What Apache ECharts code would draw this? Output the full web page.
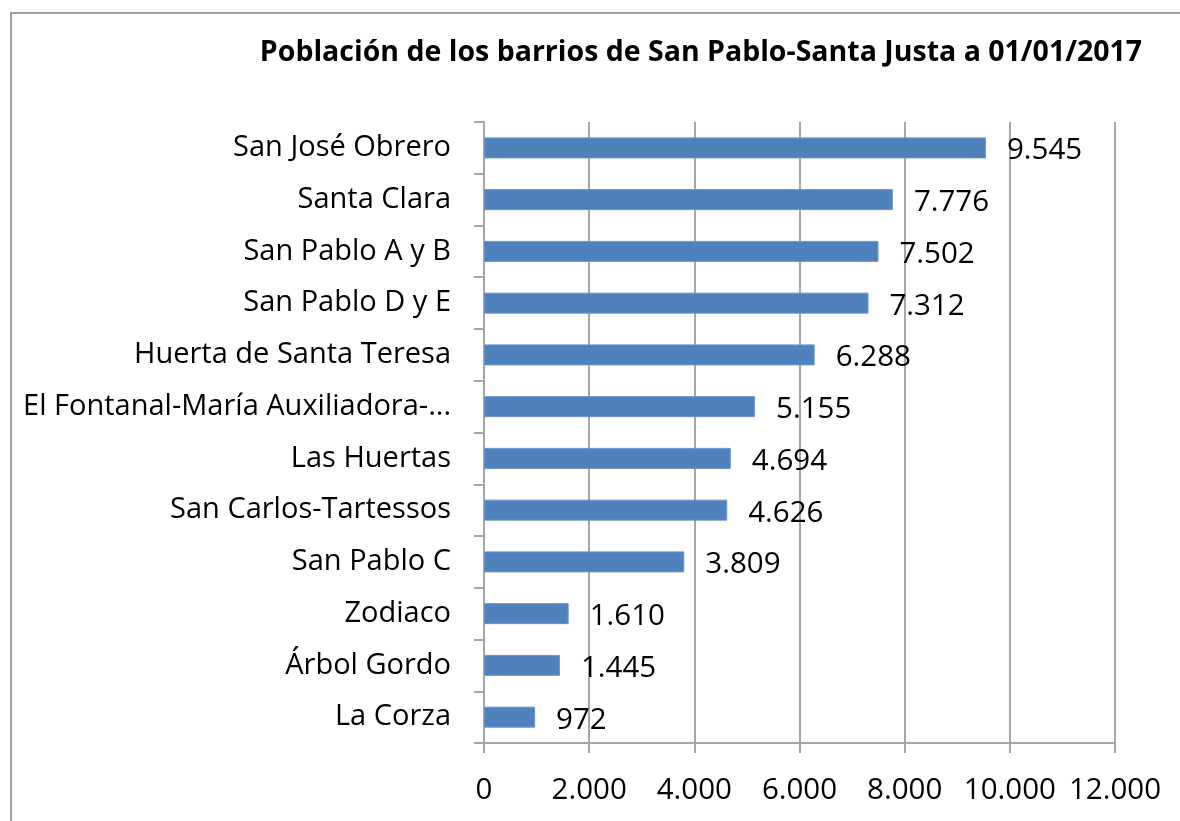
<!DOCTYPE html>
<html>
<head>
<meta charset="utf-8">
<script src="https://cdn.jsdelivr.net/npm/echarts@6/dist/echarts.min.js"></script>
<style>
  html, body { margin: 0; padding: 0; background: #fff; }
  #chart { width: 1180px; height: 821px; }
</style>
</head>
<body>
<div id="chart"></div>
<script>
var titleText = 'Población de los barrios de San Pablo-Santa Justa a 01/01/2017';
// de abajo hacia arriba (eje de categorías empieza abajo)
var barrios = ['La Corza', 'Árbol Gordo', 'Zodiaco', 'San Pablo C', 'San Carlos-Tartessos',
    'Las Huertas', 'El Fontanal-María Auxiliadora-...', 'Huerta de Santa Teresa',
    'San Pablo D y E', 'San Pablo A y B', 'Santa Clara', 'San José Obrero'];
var poblacion = [972, 1445, 1610, 3809, 4626, 4694, 5155, 6288, 7312, 7502, 7776, 9545];
var ejeMax = 12000;
var ejePaso = 2000;

function miles(v) {
    return String(v).replace(/\B(?=(\d{3})+(?!\d))/g, '.');
}

var font = 'Open Sans';
var chart = echarts.init(document.getElementById('chart'));
chart.setOption({
    backgroundColor: '#fff',
    animation: false,
    title: {
        text: titleText,
        left: 696,
        top: 33,
        textAlign: 'center',
        textStyle: { fontFamily: font, fontWeight: 'bold', fontSize: 28.5, color: '#000' }
    },
    graphic: [{
        type: 'polyline',
        shape: { points: [[11, 830], [11, 13], [1190, 13]] },
        style: { stroke: '#a0a0a0', lineWidth: 2, fill: null },
        silent: true
    }],
    grid: { left: 484, right: 65, top: 122, bottom: 78 },
    xAxis: {
        type: 'value',
        min: 0,
        max: ejeMax,
        interval: ejePaso,
        axisLine: { show: true, lineStyle: { color: '#a6a6a6', width: 2 } },
        axisTick: { show: true, length: 10, lineStyle: { color: '#a6a6a6', width: 2 } },
        splitLine: { show: true, lineStyle: { color: '#a6a6a6', width: 2 } },
        axisLabel: {
            margin: 33,
            fontFamily: font,
            fontSize: 29.5,
            color: '#000',
            formatter: miles
        }
    },
    yAxis: {
        type: 'category',
        data: barrios,
        axisLine: { show: true, lineStyle: { color: '#a6a6a6', width: 2 } },
        axisTick: { show: true, length: 10, lineStyle: { color: '#a6a6a6', width: 2 } },
        axisLabel: {
            margin: 33,
            fontFamily: font,
            fontSize: 29,
            color: '#000'
        }
    },
    series: [{
        type: 'bar',
        data: poblacion,
        barWidth: 21,
        itemStyle: { color: '#4f81bd', borderColor: '#6a95cc', borderWidth: 1 },
        label: {
            show: true,
            position: 'right',
            distance: 21,
            fontFamily: font,
            fontSize: 29.5,
            color: '#000',
            offset: [0, 3],
            formatter: function (p) { return miles(p.value); }
        }
    }]
});
</script>
</body>
</html>
